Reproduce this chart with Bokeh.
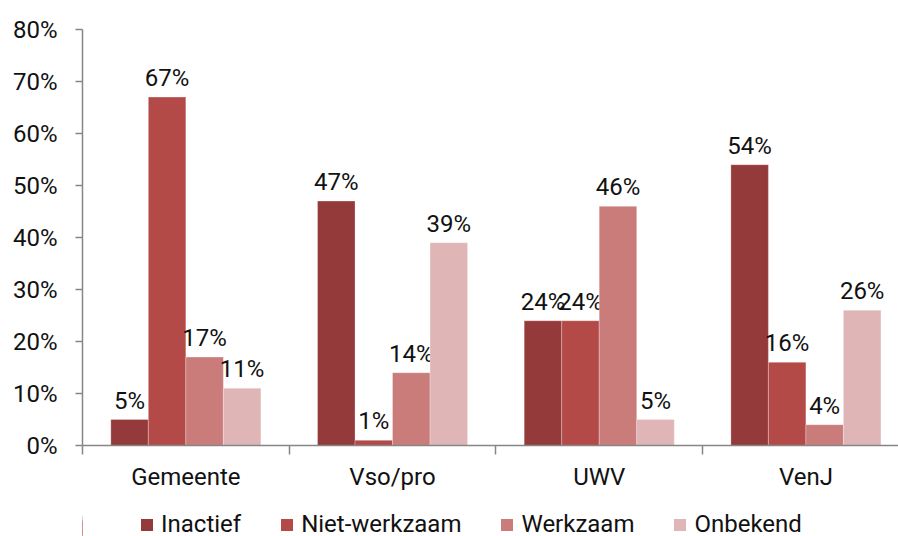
import numpy as np
from bokeh.plotting import figure
from bokeh.layouts import column
from bokeh.models import (ColumnDataSource, Range1d, FixedTicker, NumeralTickFormatter,
                          Legend, LegendItem)
from bokeh.core.properties import value
from bokeh.embed import file_html
from bokeh.resources import INLINE

categories = ["Gemeente", "Vso/pro", "UWV", "VenJ"]
series = ["Inactief", "Niet-werkzaam", "Werkzaam", "Onbekend"]
inactief = [5, 47, 24, 54]
niet_werkzaam = [67, 1, 24, 16]
werkzaam = [17, 14, 46, 4]
onbekend = [11, 39, 5, 26]
colors = ["#953A3A", "#B34A48", "#CA7C7B", "#DFB5B5"]
y_ticks = [0, 10, 20, 30, 40, 50, 60, 70, 80]

FONT = "Roboto"
FS = "24px"

p = figure(width=898, height=505, output_backend="svg", toolbar_location=None,
           x_range=Range1d(0, 3.948), y_range=Range1d(0, 0.8),
           min_border_left=82, min_border_right=0, min_border_top=29, min_border_bottom=60)
p.outline_line_color = None
p.xgrid.grid_line_color = None
p.ygrid.grid_line_color = None
p.background_fill_color = "white"
p.border_fill_color = "white"

centers = np.arange(len(categories)) + 0.5
bw = 0.1815
all_vals = [inactief, niet_werkzaam, werkzaam, onbekend]
sources = []
for k, (name, vals, col) in enumerate(zip(series, all_vals, colors)):
    xs = centers + (k - 1.5) * bw
    src = ColumnDataSource(dict(x=xs, top=[v / 100 for v in vals],
                                lbl=[f"{v}%" for v in vals]))
    sources.append(src)
    p.vbar(x="x", top="top", bottom=0, width=bw, source=src, fill_color=col,
           line_color="white", line_alpha=0.35, line_width=0.8)
    p.text(x="x", y="top", text="lbl", source=src, text_align="center",
           text_baseline="alphabetic", y_offset=-19, text_font=value(FONT),
           text_font_size=FS, text_color="#111111")

# y axis
ya = p.yaxis[0]
ya.ticker = FixedTicker(ticks=[t / 100 for t in y_ticks])
ya.formatter = NumeralTickFormatter(format="0%")
ya.axis_line_color = "#868686"
ya.axis_line_width = 1.5
ya.major_tick_line_color = "#868686"
ya.major_tick_line_width = 1.5
ya.major_tick_out = 7
ya.major_tick_in = 0
ya.minor_tick_line_color = None
ya.major_label_standoff = 18
ya.major_label_text_font = FONT
ya.major_label_text_font_size = FS
ya.major_label_text_color = "#111111"

# x axis
xa = p.xaxis[0]
xa.ticker = FixedTicker(ticks=list(centers), minor_ticks=list(np.arange(len(categories)).astype(float)))
xa.major_label_overrides = {float(c): n for c, n in zip(centers, categories)}
xa.axis_line_color = "#868686"
xa.axis_line_width = 1.5
xa.major_tick_line_color = None
xa.major_tick_out = 0
xa.major_tick_in = 0
xa.minor_tick_line_color = "#868686"
xa.minor_tick_line_width = 1.5
xa.minor_tick_out = 9
xa.minor_tick_in = 0
xa.major_label_standoff = 8
xa.major_label_text_font = FONT
xa.major_label_text_font_size = FS
xa.major_label_text_color = "#111111"

# legend strip (proxy renderers lie outside this strip's visible range)
pl = figure(width=898, height=31, output_backend="svg", toolbar_location=None,
            x_range=Range1d(100, 101), y_range=Range1d(0, 1),
            x_axis_type=None, y_axis_type=None, min_border=0)
pl.outline_line_color = None
pl.xgrid.grid_line_color = None
pl.ygrid.grid_line_color = None
items = []
for name, col, src in zip(series, colors, sources):
    r = pl.vbar(x="x", top="top", bottom=0, width=bw, source=src,
                fill_color=col, line_color=None)
    items.append(LegendItem(label=name, renderers=[r]))
legend = Legend(items=items, orientation="horizontal", location=(57, -2),
                label_text_font=FONT, label_text_font_size=FS, label_text_color="#111111",
                glyph_width=15, glyph_height=15, label_standoff=7, spacing=38,
                label_height=20, padding=0, margin=0, border_line_color=None,
                background_fill_alpha=0)
pl.add_layout(legend)

layout = column(p, pl, spacing=0)
open("out.html", "w").write(file_html(layout, INLINE))
